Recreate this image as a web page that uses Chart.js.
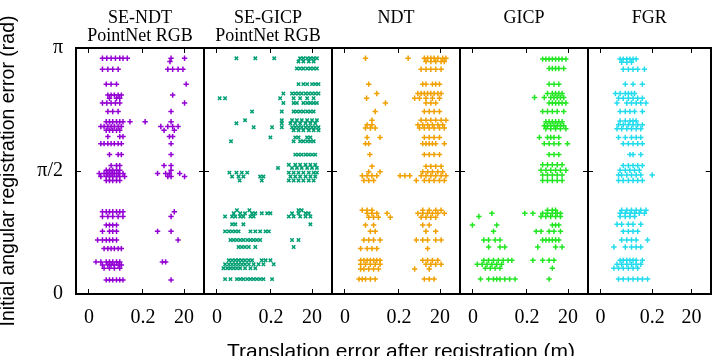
<!DOCTYPE html>
<html>
<head>
<meta charset="utf-8">
<script src="https://cdn.jsdelivr.net/npm/chart.js@4.4.0/dist/chart.umd.min.js"></script>
<style>
html, body { margin: 0; padding: 0; background: #fff; overflow: hidden; width: 720px; height: 356px; }
#wrap { position: relative; width: 720px; height: 370px; }
#wrap canvas { position: absolute; left: 0; top: 0; }
</style>
</head>
<body>
<div id="wrap"></div>
<script>
// panel titles
const panelTitles = [
    ['SE-NDT', 'PointNet RGB'],
    ['SE-GICP', 'PointNet RGB'],
    ['NDT'],
    ['GICP'],
    ['FGR']
];
const xAxisTitle = 'Translation error after registration (m)';
const yAxisTitle = 'Initial angular registration error (rad)';

// x axis is broken: 0..0.2 linear, then squeezed up to 20 (values are axis positions)
const xTickPos = [0, 1, 1.76];
const xTickLabels = ['0', '0.2', '20'];
const yTickPos = [0, Math.PI / 2, Math.PI];
const yTickLabels = ['0', 'π/2', 'π'];

// rows: [angle (rad), [axis positions of translation error]]
const sendtRows = [
    [3.01, [.25, .33, .41, .49, .57, .63, .71, 1.52, 1.77]],
    [2.97, [1.50]],
    [2.87, [.25, .35, .44, .54, 1.46, 1.55, 1.65, 1.74]],
    [2.68, [.32, .41, .51, 1.80]],
    [2.54, [.35, .41, .47, .54, .60, 1.55]],
    [2.50, [.38, .51, .57]],
    [2.44, [.25, .33, .41, .49, .57, 1.77]],
    [2.33, [.35, .44, .54, 1.52]],
    [2.20, [.32, .38, .44, .51, .57, .63, .76, 1.04, 1.52]],
    [2.14, [.22, .28, .35, .41, .47, .54, .60, 1.33, 1.46, 1.55, 1.65]],
    [2.09, [.32, .38, .44, .51, .57, 1.39, 1.58]],
    [2.01, [.35, .57, .63, 1.49, 1.55]],
    [1.92, [.22, .28, .35, .41, .47, .54, .60, 1.52]],
    [1.78, [.38, .54, .60, 1.52]],
    [1.64, [.41, .51, .57, 1.39, 1.52]],
    [1.58, [.32, .38, .44, .51, .57, 1.52]],
    [1.54, [.19, .28, .35, .41, .47, .54, .63, 1.27, 1.42, 1.49, 1.68]],
    [1.50, [.22, .32, .38, .44, .51, .57, .66, 1.46, 1.52, 1.77]],
    [1.45, [.32, .38, .44, .51, .57]],
    [1.05, [.25, .32, .38, .44, .51, .57, .63, 1.58]],
    [0.99, [.25, .35, .44, .54, .63, 1.52]],
    [0.88, [.32, .38, .44, .51]],
    [0.80, [.25, .38, .44, .51, 1.27, 1.52]],
    [0.69, [.16, .25, .32, .38, .44, .51, 1.65]],
    [0.58, [.28, .35, .41, .47, .54, .60]],
    [0.41, [.13, .22, .32, .38, .44, .51, .57, 1.36, 1.42]],
    [0.37, [.25, .35, .41, .47, .54, .60]],
    [0.33, [.28, .38, .47, .57]],
    [0.18, [.32, .38, .44, .51, .57, .63, 1.52]]
];

const segicpRows = [
    [3.01, [.36, .71, 1.06, 1.54, 1.60, 1.67, 1.73, 1.79, 1.85]],
    [2.97, [1.51, 1.60, 1.70, 1.79]],
    [2.88, [1.48, 1.54, 1.60, 1.67, 1.73, 1.79, 1.85]],
    [2.68, [1.51, 1.60, 1.67, 1.76, 1.82, 1.88]],
    [2.56, [1.23, 1.39, 1.45, 1.51, 1.57, 1.64, 1.70, 1.76, 1.82, 1.88]],
    [2.50, [.05, .15, 1.17, 1.42, 1.54, 1.67, 1.79]],
    [2.44, [1.23, 1.42, 1.48, 1.60, 1.67, 1.73, 1.79, 1.85]],
    [2.33, [.65, 1.20, 1.42, 1.48, 1.54, 1.60, 1.67, 1.73, 1.79]],
    [2.22, [.52, 1.20, 1.39, 1.48, 1.57, 1.67, 1.76, 1.85]],
    [2.18, [.36, 1.20, 1.36, 1.45, 1.54, 1.64, 1.73, 1.82]],
    [2.13, [.68, 1.02, 1.20, 1.39, 1.45, 1.51, 1.57, 1.64, 1.70, 1.76, 1.82, 1.88]],
    [2.09, [1.42, 1.51, 1.60, 1.70, 1.79, 1.88]],
    [2.00, [.99, 1.45, 1.51, 1.67, 1.73]],
    [1.95, [.26, 1.42, 1.54, 1.60, 1.67, 1.73, 1.79]],
    [1.78, [1.45, 1.51, 1.57, 1.64, 1.70, 1.76, 1.82]],
    [1.65, [1.33, 1.45, 1.54, 1.64, 1.73, 1.82]],
    [1.61, [1.13, 1.39, 1.48, 1.57, 1.67, 1.76, 1.85]],
    [1.55, [.23, .36, .46, .56, 1.33, 1.42, 1.51, 1.60, 1.70, 1.79, 1.85]],
    [1.50, [.28, .40, .49, .80, .86, 1.36, 1.45, 1.54, 1.64, 1.73, 1.82]],
    [1.45, [.42, .83, 1.33, 1.42, 1.51, 1.60, 1.70, 1.79]],
    [1.07, [.37, .60, 1.51, 1.57]],
    [1.03, [.31, .43, .52, .65, .71, .83, .93, .99, 1.39, 1.51, 1.64, 1.70]],
    [0.99, [.15, .28, .34, .43, .49, .62, .68, 1.33, 1.42, 1.54, 1.64, 1.73]],
    [0.89, [.28, .34, .49, 1.73]],
    [0.80, [.15, .22, .28, .34, .40, .62, .71, .80, .90, .96]],
    [0.69, [.25, .31, .37, .43, .49, .56, .62, .68, .74, .80, 1.39, 1.51]],
    [0.60, [.40, .46, .52, .59, .71, 1.42]],
    [0.43, [.22, .28, .34, .40, .46, .52, .59, .65, .83, .90, .99]],
    [0.38, [.15, .22, .28, .34, .40, .46, .52, .59, .68, .77, .86, 1.05]],
    [0.33, [.12, .19, .25, .31, .37, .43, .52, .62, .71]],
    [0.19, [.15, .25, .37, .43, .49, .56, .62, .68, .74, .80, .86, 1.02]]
];

const ndtRows = [
    [3.01, [.38, 1.17, 1.47, 1.53, 1.59, 1.65, 1.72, 1.81, 1.87]],
    [2.97, [1.50, 1.59, 1.68, 1.78, 1.84]],
    [2.87, [1.41, 1.50, 1.59, 1.68, 1.78]],
    [2.68, [.44, 1.44, 1.50, 1.62, 1.68, 1.75]],
    [2.56, [.59, 1.35, 1.41, 1.47, 1.53, 1.59, 1.65, 1.72, 1.78]],
    [2.50, [.40, 1.29, 1.38, 1.50, 1.62, 1.75]],
    [2.44, [.75, 1.50, 1.59, 1.68]],
    [2.33, [.56, 1.47, 1.56, 1.65, 1.75]],
    [2.22, [.50, 1.41, 1.50, 1.59, 1.68, 1.78, 1.87]],
    [2.16, [.41, .50, 1.35, 1.44, 1.53, 1.62, 1.72, 1.81]],
    [2.12, [.38, .47, .56, 1.38, 1.47, 1.56, 1.65, 1.75, 1.84]],
    [2.00, [.41, .65, 1.47, 1.56, 1.65, 1.75]],
    [1.92, [.38, .44, 1.44, 1.50, 1.56, 1.62, 1.68, 1.84]],
    [1.78, [.46, 1.47, 1.56, 1.65, 1.75]],
    [1.63, [.50, 1.50, 1.59, 1.68, 1.78]],
    [1.56, [.44, .65, 1.44, 1.53, 1.62, 1.72, 1.81]],
    [1.51, [.32, .41, .50, .59, 1.02, 1.11, 1.20, 1.41, 1.50, 1.59, 1.68, 1.78, 1.87]],
    [1.45, [.35, .44, .53, 1.32, 1.47, 1.56, 1.65, 1.75, 1.84]],
    [1.07, [.32, .41, .50, 1.44, 1.56, 1.68, 1.78]],
    [1.03, [.41, .50, .59, .78, 1.35, 1.44, 1.53, 1.62, 1.72, 1.84]],
    [0.98, [.44, .53, .62, .84, 1.41, 1.50, 1.59, 1.68]],
    [0.88, [.38, .53, 1.44, 1.56]],
    [0.80, [.47, .56, 1.50, 1.68]],
    [0.69, [.35, .44, .53, .65, 1.32, 1.44, 1.53, 1.68, 1.78]],
    [0.58, [.29, .41, .50, .59, 1.53]],
    [0.43, [.29, .35, .41, .47, .53, .59, .65, 1.44, 1.53, 1.62, 1.72]],
    [0.38, [.29, .38, .47, .56, .65, 1.50, 1.59, 1.68, 1.78]],
    [0.32, [.29, .35, .44, .53, .62, 1.29, 1.56]],
    [0.19, [.26, .32, .38, .47, .56, 1.47, 1.56, 1.65]]
];

const gicpRows = [
    [3.00, [1.29, 1.35, 1.41, 1.47, 1.53, 1.59, 1.65, 1.72]],
    [2.88, [1.41, 1.47, 1.53, 1.59, 1.68]],
    [2.68, [1.41, 1.50, 1.59]],
    [2.56, [1.38, 1.47, 1.53, 1.59, 1.65]],
    [2.51, [1.14, 1.32, 1.44, 1.50, 1.56, 1.62, 1.68]],
    [2.44, [1.41, 1.47, 1.53, 1.59, 1.65, 1.72]],
    [2.33, [1.29, 1.38, 1.47, 1.56, 1.68]],
    [2.20, [1.35, 1.41, 1.47, 1.53, 1.59, 1.65]],
    [2.15, [1.32, 1.38, 1.44, 1.50, 1.56, 1.62, 1.68]],
    [2.11, [1.35, 1.44, 1.53, 1.62, 1.72]],
    [2.00, [1.23, 1.38, 1.44, 1.50, 1.59]],
    [1.92, [1.32, 1.41, 1.50, 1.59, 1.75]],
    [1.78, [1.41, 1.50, 1.59]],
    [1.65, [1.29, 1.38, 1.47, 1.56, 1.65]],
    [1.58, [1.26, 1.35, 1.44, 1.53, 1.62, 1.72]],
    [1.52, [1.29, 1.38, 1.47, 1.56, 1.65]],
    [1.45, [1.29, 1.38, 1.47, 1.56, 1.65]],
    [1.07, [1.38, 1.47, 1.53]],
    [1.03, [.35, .96, 1.11, 1.29, 1.38, 1.47, 1.56, 1.62]],
    [0.99, [.11, 1.26, 1.35, 1.44, 1.53, 1.62]],
    [0.88, [-.01, .44, 1.47, 1.53, 1.59]],
    [0.80, [.38, 1.17, 1.26, 1.41, 1.50, 1.62]],
    [0.69, [.20, .29, .41, .50, 1.29, 1.35, 1.41, 1.47, 1.53, 1.59]],
    [0.60, [.29, .50, .59, 1.20, 1.53, 1.65]],
    [0.43, [.20, .29, .38, .47, .56, .65, .72, 1.11, 1.29, 1.41, 1.50]],
    [0.38, [.08, .17, .26, .35, .44, .53]],
    [0.33, [.23, .32, .41, .50, 1.47]],
    [0.19, [.14, .29, .38, .44, .50, .59, .68, .78, 1.41]]
];

const fgrRows = [
    [3.00, [.38, .44, .51, .57, .63, .69]],
    [2.96, [.41, .51, .60]],
    [2.87, [.44, .54, .63, .72, .85]],
    [2.68, [.48, .63, .81]],
    [2.56, [.29, .38, .48, .54, .60, .66]],
    [2.50, [.35, .44, .54, .63, .72, .81]],
    [2.44, [.32, .51, .60, .69, .78, .88]],
    [2.33, [.38, .48, .57, .66, .81]],
    [2.21, [.38, .48, .57, .63, .69]],
    [2.16, [.35, .44, .54, .63, .72, .81]],
    [2.11, [.32, .41, .51, .60, .69, .78]],
    [2.00, [.35, .48, .60, .69, .78]],
    [1.92, [.44, .54, .63, .72, .81]],
    [1.78, [.57, .63, .78]],
    [1.64, [.44, .54, .63, .72, .81]],
    [1.58, [.38, .48, .57, .66, .75]],
    [1.52, [.35, .41, .51, .60, .69, .78, 1.00]],
    [1.45, [.35, .44, .54, .63, .72, .81]],
    [1.07, [.41, .51, .60, .69, .78, .88]],
    [1.03, [.38, .48, .57, .66, .75, .85]],
    [0.99, [.38, .48, .57, .66]],
    [0.89, [.32, .41, .54, .63, .78]],
    [0.80, [.44, .54, .63, .72]],
    [0.69, [.41, .51, .60, .69, .91]],
    [0.60, [.26, .48, .60, .69, .78]],
    [0.43, [.38, .44, .51, .57, .63, .69, .81]],
    [0.38, [.32, .41, .51, .60, .69, .78]],
    [0.33, [.26, .35, .44, .54, .63, .72]],
    [0.19, [.35, .44, .54, .63, .72, .81, .91]]
];

const panelRows = [sendtRows, segicpRows, ndtRows, gicpRows, fgrRows];
const panelColors = ['#9400d3', '#009e73', '#f0a000', '#22e622', '#22dcee'];
const panelMarkers = ['cross', 'crossRot', 'cross', 'cross', 'cross'];

const panelLeft = [76, 204, 332, 460, 588];
const panelWidth = 128;

const serif = 'Liberation Serif, Times New Roman, serif';
const sans = 'Liberation Sans, Arial, sans-serif';

// draws the panel heading above each plot (and the shared x title on one panel)
const panelTitlePlugin = {
    id: 'panelTitle',
    afterDraw(chart, args, opts) {
        const {ctx, chartArea} = chart;
        ctx.save();
        ctx.fillStyle = '#000';
        ctx.textAlign = 'center';
        ctx.textBaseline = 'middle';
        ctx.font = '18px ' + serif;
        opts.lines.forEach((t, i) => {
            ctx.fillText(t, (chartArea.left + chartArea.right) / 2, 18 + i * 18.5);
        });
        if (opts.bottomText) {
            ctx.font = '21px ' + sans;
            ctx.fillText(opts.bottomText, 401, 352);
        }
        ctx.restore();
    }
};

const wrap = document.getElementById('wrap');

panelRows.forEach((rows, k) => {
    const canvas = document.createElement('canvas');
    canvas.width = 720;
    canvas.height = 370;
    wrap.appendChild(canvas);

    const points = [];
    rows.forEach(([ang, xs]) => xs.forEach(x => points.push({x: x, y: ang})));

    const grid = {drawOnChartArea: false, drawTicks: true, tickLength: -5, color: '#000', lineWidth: 1};
    const border = {display: true, color: '#000', width: 2};
    const xRange = {min: -0.24, max: 2.13};

    new Chart(canvas, {
        type: 'scatter',
        data: {
            datasets: [{
                data: points,
                pointStyle: panelMarkers[k],
                pointRadius: k === 1 ? 2.4 : 2.7,
                borderColor: panelColors[k],
                backgroundColor: panelColors[k],
                borderWidth: 1.5
            }]
        },
        options: {
            responsive: false,
            animation: false,
            events: [],
            layout: {
                padding: {
                    left: k === 0 ? 0 : panelLeft[k],
                    right: 720 - panelLeft[k] - panelWidth,
                    top: 48,
                    bottom: 0
                }
            },
            plugins: {
                legend: {display: false},
                tooltip: {enabled: false},
                panelTitle: {lines: panelTitles[k], bottomText: k === 2 ? xAxisTitle : null}
            },
            scales: {
                x: {
                    type: 'linear', position: 'bottom', ...xRange,
                    afterBuildTicks: s => { s.ticks = xTickPos.map(v => ({value: v})); },
                    afterFit: s => { s.height = 76; },
                    ticks: {
                        callback: (v, i) => xTickLabels[i],
                        font: {family: serif, size: 20},
                        color: '#000', padding: 17, maxRotation: 0, autoSkip: false
                    },
                    grid: grid,
                    border: border
                },
                x2: {
                    type: 'linear', axis: 'x', position: 'top', ...xRange,
                    afterBuildTicks: s => { s.ticks = xTickPos.map(v => ({value: v})); },
                    afterFit: s => { s.height = 0; },
                    ticks: {display: false},
                    grid: grid,
                    border: border
                },
                y: {
                    type: 'linear', position: 'left', min: 0, max: Math.PI,
                    afterBuildTicks: s => { s.ticks = yTickPos.map(v => ({value: v})); },
                    afterFit: s => { s.width = k === 0 ? panelLeft[0] : 0; },
                    ticks: {
                        display: k === 0,
                        callback: (v, i) => yTickLabels[i],
                        font: {family: serif, size: 20},
                        color: '#000', padding: 18
                    },
                    grid: grid,
                    border: border,
                    title: {
                        display: k === 0,
                        text: yAxisTitle,
                        font: {family: sans, size: 19.5},
                        color: '#000',
                        padding: {top: -3, bottom: 0}
                    }
                },
                y2: {
                    type: 'linear', axis: 'y', position: 'right', min: 0, max: Math.PI,
                    afterBuildTicks: s => { s.ticks = yTickPos.map(v => ({value: v})); },
                    afterFit: s => { s.width = 0; },
                    ticks: {display: false},
                    grid: grid,
                    border: border
                }
            }
        },
        plugins: [panelTitlePlugin]
    });
});
</script>
</body>
</html>
